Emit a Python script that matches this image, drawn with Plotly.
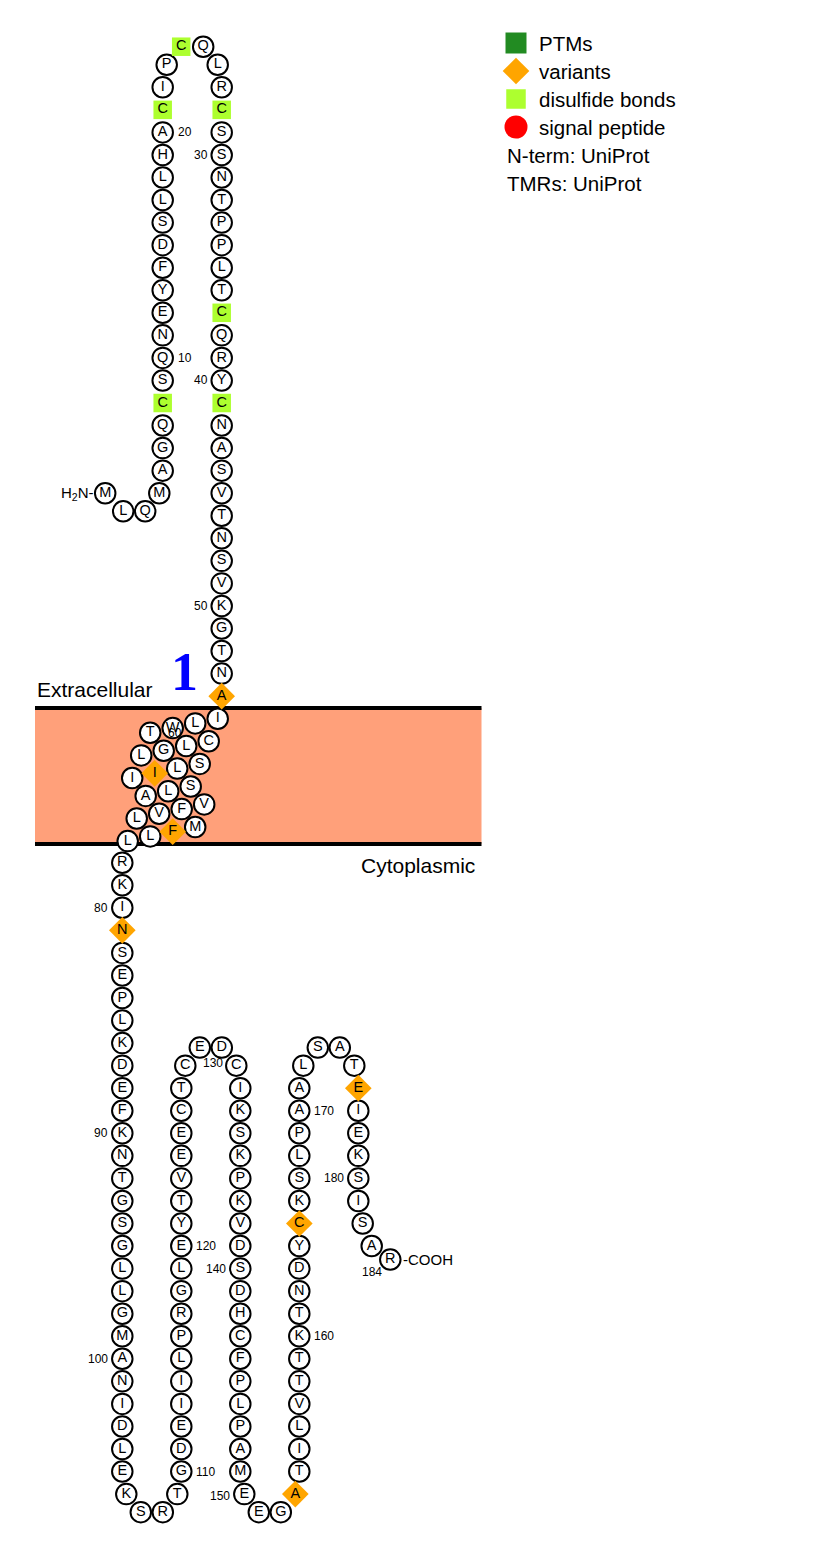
import plotly.graph_objects as go

# protein data (BCMA / TNFRSF17 topology)
SEQUENCE = ("MLQMAGQCSQNEYFDSLLHACIPCQLRCSSNTPPLTCQRYCNASVTNSVKGTNA"
            "ILWTCLGLSLIISLAVFVLMFLL"
            "RKINSEPLKDEFKNTGSGLLGMANIDLEKSRTGDEIILPRGLEYTVEECTCEDCIKSKPKVDSDHCFPLPAMEEGATILVTTKTNDYCKSLPAALSATEIEKSISAR")
TM_START = 55
TM_END = 77
VARIANTS = [54, 65, 75, 81, 153, 165, 176]
DISULFIDE_BONDS = [8, 21, 24, 28, 37, 41]
PTMS = []
# 70 is hidden under the helix in the original, so it is left out
NUMBERED = [10, 20, 30, 40, 50, 60, 80, 90, 100, 110, 120, 130, 140, 150, 160, 170, 180, 184]
TMR_NAMES = ["1"]
LEGEND_NAMES = ["PTMs", "variants", "disulfide bonds", "signal peptide"]
SOURCES = ["N-term: UniProt", "TMRs: UniProt"]

# styles
FONT = "Liberation Sans, Arial, sans-serif"
STYLE = {
    "PTMs": dict(symbol="square", color="#228B22", size=20),
    "variants": dict(symbol="diamond", color="#FFA500", size=20.5),
    "disulfide bonds": dict(symbol="square", color="#ADFF2F", size=18.5),
    "signal peptide": dict(symbol="circle", color="#FF0000", size=23),
}

# layout geometry
ROW = 22.55
GAP = 59.0
TURN = [(4.0, 1.0), (18.5, 1.8), (GAP - 18.5, 1.8), (GAP - 4.0, 1.0)]
HELIX_STEP = (-22.5, 4.7)
HELIX_ROW = (-9.0, 22.6)
HELIX_ROWS = [4, 4, 4, 3, 4, 4]
MEMBRANE = dict(x0=35, x1=481.5, y0=708, y1=844)

xy = {}
side = {}


def column(first, last, x, y, d):
    for i, n in enumerate(range(first, last + 1)):
        xy[n] = (x, y + d * i * ROW)
        side[n] = "right" if d < 0 else "left"
    return x, y + d * (last - first) * ROW


def turn(first, x, y, d):
    for i, (dx, dr) in enumerate(TURN):
        xy[first + i] = (x + dx, y + d * dr * ROW)
    return x + GAP, y


def helix(first, x, y):
    k = first
    ax, ay = HELIX_STEP
    bx, by = HELIX_ROW
    for r, length in enumerate(HELIX_ROWS):
        for j in range(length):
            xy[k] = (x, y)
            k += 1
            if j < length - 1:
                x, y = x + ax, y + ay
            else:
                x, y = x + bx - 3 * ax, y + by - 3 * ay


# extracellular
x, y = column(4, 22, 162.7, 493.2, -1)
xy[4] = (xy[4][0] - 3.4, xy[4][1])
xy[1] = (162.7 - 57.5, 493.2)
xy[2] = (162.7 - 39.5, 493.2 + 0.8 * ROW)
xy[3] = (162.7 - 17.5, 493.2 + 0.8 * ROW)
x, y = turn(23, x, y, -1)
x, y = column(27, TM_START - 1, x, y, 1)
helix(TM_START, x - 4, y + ROW)
# cytoplasmic
x, y = column(TM_END + 1, 105, 122.3, 862.7, 1)
x, y = turn(106, x, y, 1)
x, y = column(110, 127, x, y, -1)
x, y = turn(128, x, y, -1)
x, y = column(132, 149, x, y, 1)
x, y = turn(150, x, y, 1)
x, y = column(154, 171, x, y, -1)
x, y = turn(172, x, y, -1)
x, y = column(176, 181, x, y, 1)
for n, (dx, dr) in zip([182, 183, 184], [(4.4, 1.0), (13.4, 2.0), (32.0, 2.6)]):
    xy[n] = (x + dx, y + dr * ROW)

SPECIAL_LABELS = {60: (-11, -13, "center"), 130: (-9, 15.7, "center"),
                  150: (-12, 2, "right"), 184: (-18.6, 12, "center")}

n_all = list(range(1, len(SEQUENCE) + 1))
plain = [n for n in n_all if n not in VARIANTS and n not in DISULFIDE_BONDS and n not in PTMS]

fig = go.Figure()

fig.add_shape(type="rect", layer="below", line_width=0, fillcolor="#FFA07A", **MEMBRANE)
for yy in (MEMBRANE["y0"], MEMBRANE["y1"]):
    fig.add_shape(type="line", layer="below", x0=MEMBRANE["x0"], x1=MEMBRANE["x1"], y0=yy, y1=yy,
                  line=dict(color="black", width=4))

fig.add_trace(go.Scatter(
    x=[xy[n][0] for n in plain], y=[xy[n][1] for n in plain], mode="markers",
    marker=dict(symbol="circle", size=20.5, color="white", line=dict(color="black", width=2)),
    hoverinfo="skip"))

for name, group in [("disulfide bonds", DISULFIDE_BONDS), ("PTMs", PTMS), ("variants", VARIANTS)]:
    st = STYLE[name]
    fig.add_trace(go.Scatter(
        x=[xy[n][0] for n in group], y=[xy[n][1] for n in group], mode="markers",
        marker=dict(symbol=st["symbol"], size=st["size"], color=st["color"], line_width=0),
        hoverinfo="skip"))

fig.add_trace(go.Scatter(
    x=[xy[n][0] for n in n_all], y=[xy[n][1] for n in n_all], mode="text",
    text=list(SEQUENCE), textposition="middle center",
    textfont=dict(family=FONT, size=14.5, color="black"), hoverinfo="skip"))

# position numbers
for n in NUMBERED:
    px, py = xy[n]
    if n in SPECIAL_LABELS:
        dx, dy, anchor = SPECIAL_LABELS[n]
    elif side.get(n) == "right":
        dx, dy, anchor = 13, 0, "left"
    else:
        dx, dy, anchor = -12, 0, "right"
    fig.add_annotation(x=px + dx, y=py + dy, text=str(n), showarrow=False, xanchor=anchor,
                       yanchor="middle", font=dict(family=FONT, size=12, color="black"))

# termini
fig.add_annotation(x=xy[1][0] - 9.5, y=xy[1][1], text="H<sub>2</sub>N-", showarrow=False,
                   xanchor="right", yanchor="middle", font=dict(family=FONT, size=15, color="black"))
fig.add_annotation(x=xy[184][0] + 11, y=xy[184][1], text="-COOH", showarrow=False,
                   xanchor="left", yanchor="middle", font=dict(family=FONT, size=15, color="black"))

# membrane labels
fig.add_annotation(x=35, y=689, text="Extracellular", showarrow=False, xanchor="left",
                   yanchor="middle", font=dict(family=FONT, size=21, color="black"))
fig.add_annotation(x=477, y=865, text="Cytoplasmic", showarrow=False, xanchor="right",
                   yanchor="middle", font=dict(family=FONT, size=21, color="black"))
fig.add_annotation(x=184, y=672, text="<b>" + TMR_NAMES[0] + "</b>", showarrow=False,
                   xanchor="center", yanchor="middle",
                   font=dict(family="Liberation Serif, Times New Roman, serif", size=54, color="#0000FF"))

# legend
for i, name in enumerate(LEGEND_NAMES):
    st = STYLE[name]
    ly = 43 + i * 28
    fig.add_trace(go.Scatter(x=[516], y=[ly], mode="markers", hoverinfo="skip",
                             marker=dict(symbol=st["symbol"], size=st["size"] + (1 if st["symbol"] == "square" else 0),
                                         color=st["color"], line_width=0)))
    fig.add_annotation(x=537, y=ly, text=name, showarrow=False, xanchor="left", yanchor="middle",
                       font=dict(family=FONT, size=20.5, color="black"))
for i, src in enumerate(SOURCES):
    fig.add_annotation(x=505, y=43 + (len(LEGEND_NAMES) + i) * 28, text=src, showarrow=False,
                       xanchor="left", yanchor="middle", font=dict(family=FONT, size=20.5, color="black"))

fig.update_layout(
    width=813, height=1559, margin=dict(l=0, r=0, t=0, b=0),
    paper_bgcolor="white", plot_bgcolor="white", showlegend=False,
    xaxis=dict(range=[0, 813], visible=False, fixedrange=True),
    yaxis=dict(range=[1559, 0], visible=False, fixedrange=True),
)

fig.write_html("out.html", config={"displayModeBar": False},
               post_script="document.body.style.margin='0';")
